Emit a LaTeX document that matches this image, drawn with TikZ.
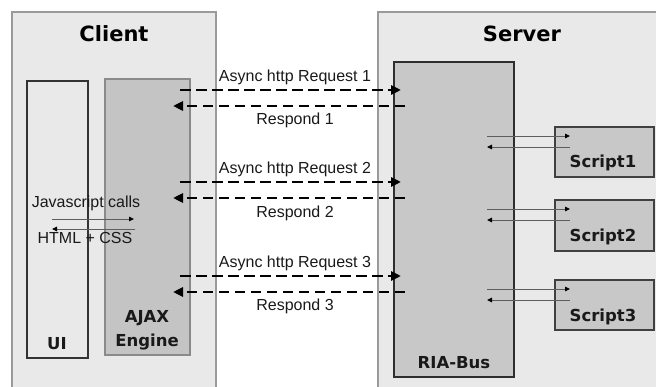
\documentclass[tikz,border=0pt]{standalone}
\usepackage{fontspec}
\setmainfont{Liberation Sans}
\newfontfamily\headfont{DejaVu Sans}[BoldFont={DejaVu Sans Bold}]
\usetikzlibrary{arrows.meta}

\definecolor{panelfill}{HTML}{E9E9E9}
\definecolor{panelline}{HTML}{9A9A9A}
\definecolor{enginefill}{HTML}{C4C4C4}
\definecolor{engineline}{HTML}{8A8A8A}
\definecolor{busfill}{HTML}{C8C8C8}
\definecolor{busline}{HTML}{2E2E2E}
\definecolor{thinline}{HTML}{5E5E5E}

\tikzset{
  box/.style={anchor=north west, inner sep=0pt, outer sep=0pt},
  panel/.style={box, fill=panelfill, draw=panelline, line width=2pt},
  uibox/.style={box, fill=panelfill, draw=black!80, line width=1.4pt},
  enginebox/.style={box, fill=enginefill, draw=engineline, line width=2pt},
  busbox/.style={box, fill=busfill, draw=busline, line width=1.4pt},
  scriptbox/.style={box, fill=busfill, draw=black!75, line width=1.4pt},
  heading/.style={anchor=base, inner sep=0pt, font=\headfont\bfseries\fontsize{21}{24}\selectfont},
  boxlabel/.style={anchor=base, inner sep=0pt, font=\headfont\bfseries\fontsize{16.5}{19}\selectfont, text=black!90},
  msg/.style={anchor=base, inner sep=0pt, font=\fontsize{16}{18}\selectfont, text=black!90},
  async/.style={line width=2.8pt, dash pattern=on 10.5pt off 5.5pt, -{Triangle[length=10pt,width=9pt]}},
  call/.style={line width=0.9pt, draw=thinline, -{Triangle[length=5pt,width=4.5pt,fill=black,color=black]}},
}

\begin{document}
\begin{tikzpicture}[x=1pt, y=-1pt]
\useasboundingbox (0,0) rectangle (656,387);
\clip (0,0) rectangle (656,387);

% client and server panels
\node[panel, minimum width=204pt, minimum height=390pt] (client) at (12,12) {};
\node[panel, minimum width=300pt, minimum height=390pt] (server) at (378,12) {};
\node[heading] (clienttitle) at (114,42) {Client};
\node[heading] (servertitle) at (522,42) {Server};

% client side blocks
\node[uibox, minimum width=61pt, minimum height=277pt] (ui) at (27,81) {};
\node[enginebox, minimum width=85pt, minimum height=276pt] (ajax) at (105,79) {};
\node[boxlabel] (uilabel) at (57,349) {UI};
\node[boxlabel] (ajaxlabel) at (147,323) {AJAX};
\node[boxlabel] (enginelabel) at (147,347) {Engine};

% server side blocks
\node[busbox, minimum width=120pt, minimum height=315pt] (ria) at (394,62) {};
\node[boxlabel] (rialabel) at (454,368) {RIA-Bus};
\node[scriptbox, minimum width=99pt, minimum height=50pt] (s1) at (555,127) {};
\node[scriptbox, minimum width=99pt, minimum height=51pt] (s2) at (555,200) {};
\node[scriptbox, minimum width=99pt, minimum height=50pt] (s3) at (555,280) {};
\node[boxlabel] (s1label) at (603,168) {Script1};
\node[boxlabel] (s2label) at (603,242) {Script2};
\node[boxlabel] (s3label) at (603,322) {Script3};

% end points of the asynchronous requests and responses
\foreach \i/\y in {1/90, 2/182, 3/276} {
  \coordinate (req\i s) at (180,\y);
  \coordinate (req\i e) at (401,\y);
  \coordinate (res\i s) at (405,\y+16);
  \coordinate (res\i e) at (173,\y+16);
}
\draw[async] (req1s) -- (req1e);
\draw[async] (res1s) -- (res1e);
\draw[async] (req2s) -- (req2e);
\draw[async] (res2s) -- (res2e);
\draw[async] (req3s) -- (req3e);
\draw[async] (res3s) -- (res3e);

\node[msg] (q1) at (295,82) {Async http Request 1};
\node[msg] (r1) at (295,125) {Respond 1};
\node[msg] (q2) at (295,174) {Async http Request 2};
\node[msg] (r2) at (295,218) {Respond 2};
\node[msg] (q3) at (295,268) {Async http Request 3};
\node[msg] (r3) at (295,311) {Respond 3};

% UI <-> engine calls
\coordinate (jsl) at (52,219);
\coordinate (jsr) at (134,219);
\coordinate (hl) at (52,229);
\coordinate (hr) at (135,229);
\draw[call] (jsl) -- (jsr);
\draw[call] (hr) -- (hl);
\node[msg] (js) at (86,208) {Javascript calls};
\node[msg] (html) at (85,244) {HTML + CSS};

% bus <-> script calls
\foreach \i/\y in {1/136, 2/209, 3/289} {
  \coordinate (b\i a) at (487,\y);
  \coordinate (b\i b) at (570,\y);
  \coordinate (b\i c) at (570,\y+11);
  \coordinate (b\i d) at (487,\y+11);
}
\draw[call] (b1a) -- (b1b);
\draw[call] (b1c) -- (b1d);
\draw[call] (b2a) -- (b2b);
\draw[call] (b2c) -- (b2d);
\draw[call] (b3a) -- (b3b);
\draw[call] (b3c) -- (b3d);
\end{tikzpicture}
\end{document}
